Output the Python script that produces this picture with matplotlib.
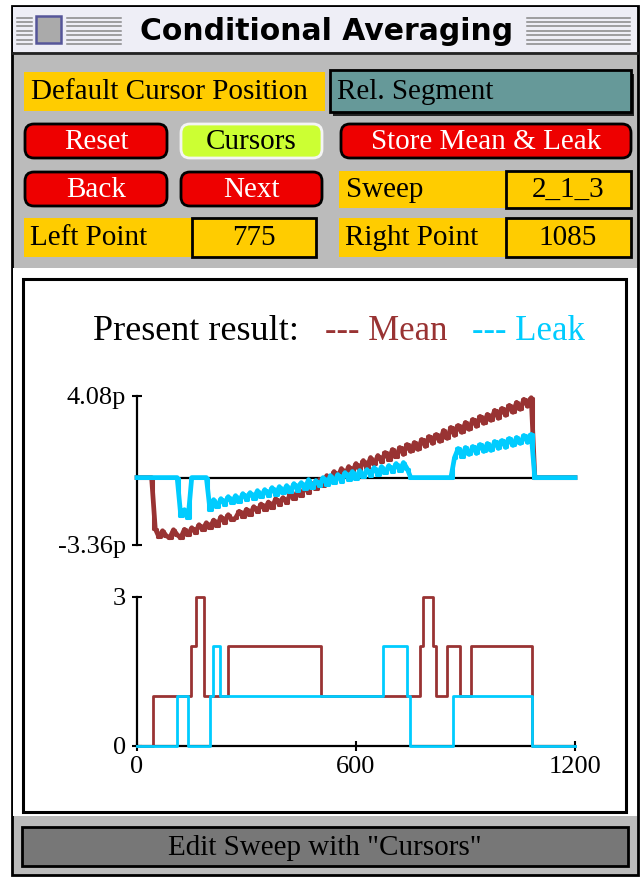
import numpy as np
import matplotlib
matplotlib.use('Agg')
import matplotlib.pyplot as plt
from matplotlib.patches import Rectangle, FancyBboxPatch

plt.rcParams['font.family'] = ['Liberation Serif', 'DejaVu Serif']

# ---------------- data ----------------
window_title = "Conditional Averaging"
status_text = 'Edit Sweep with "Cursors"'
legend_prefix = "Present result:"
legend_labels = ["--- Mean", "--- Leak"]

sample_t = np.arange(0, 1210, 10)  # sample times of the traces

mean_trace = (
    [0, 0, 0, 0, 0]
    + [-2.55, -2.95, -2.65, -2.90, -3.00, -2.60, -2.85, -3.00, -2.58, -2.85,
       -2.50, -2.75, -2.35, -2.60, -2.25, -2.50, -2.12, -2.40, -1.95, -2.25,
       -1.85, -2.10, -2.02, -1.68, -1.95, -1.58, -1.85, -1.45, -1.70, -1.32,
       -1.60, -1.22, -1.50, -1.05, -1.35, -1.00, -1.25, -0.80, -1.05, -0.66,
       -0.90, -0.46, -0.75, -0.30, -0.55, -0.10, -0.40, 0.10, -0.20, 0.30,
       0.00, 0.45, 0.12, 0.55, 0.25, 0.70, 0.36, 0.85, 0.50, 1.00,
       0.66, 1.10, 0.80, 1.25, 0.90, 1.40, 1.05, 1.50, 1.15, 1.65,
       1.30, 1.75, 1.40, 1.90, 1.55, 2.05, 1.70, 2.15, 1.80, 2.35,
       1.95, 2.50, 2.10, 2.60, 2.25, 2.75, 2.40, 2.90, 2.55, 3.05,
       2.70, 3.15, 2.85, 3.35, 2.95, 3.45, 3.10, 3.60, 3.25, 3.75,
       3.40, 3.90, 3.55, 3.98]
    + [0] * 12
)

leak_trace = (
    [0] * 12
    + [-1.90, -1.60, -2.00]
    + [0] * 5
    + [-1.60, -1.10, -1.45, -1.05, -1.35, -0.95, -1.25, -0.90, -1.20, -0.80,
       -1.10, -0.75, -1.05, -0.65, -0.95, -0.60, -0.90, -0.50, -0.85, -0.45,
       -0.75, -0.40, -0.70, -0.30, -0.65, -0.25, -0.55, -0.10, -0.50, -0.15,
       -0.40, 0.00, -0.35, 0.10, -0.25, 0.15, -0.20, 0.25, -0.10, 0.30,
       -0.05, 0.35, 0.05, 0.40, 0.10, 0.50, 0.15, 0.55, 0.25, 0.60,
       0.30, 0.70, 0.35, 0.75, 0.45]
    + [0] * 12
    + [1.00, 1.45, 1.05, 1.50, 1.15, 1.55, 1.20, 1.65, 1.30, 1.70, 1.35,
       1.80, 1.45, 1.85, 1.50, 1.95, 1.60, 2.00, 1.70, 2.10, 1.75, 2.15]
    + [0] * 12
)

mean_count_t = [0, 45, 147, 163, 183, 250, 505, 774, 783, 812, 819, 849, 885, 915, 1083, 1200]
mean_count_v = [0, 1, 2, 3, 1, 2, 1, 2, 3, 2, 1, 2, 1, 2, 0, 0]
leak_count_t = [0, 110, 140, 200, 209, 227, 673, 739, 748, 865, 1083, 1200]
leak_count_v = [0, 1, 0, 1, 2, 1, 2, 1, 0, 1, 0, 0]

upper_ticks = [-3.36, 4.08]
upper_tick_labels = ['-3.36p', '4.08p']
lower_yticks = [0, 3]
lower_xticks = [0, 600, 1200]

label_default = "Default Cursor Position"
label_segment = "Rel. Segment"
red_buttons = ["Reset", "Store Mean & Leak", "Back", "Next"]
green_button = "Cursors"
field_labels = ["Sweep", "Left Point", "Right Point"]
field_values = ["2_1_3", "775", "1085"]

MEAN_C = '#993333'
LEAK_C = '#00ccff'
YELLOW = '#ffcc00'
RED = '#ee0000'
GREY = '#bbbbbb'
UI_FS = 21

# ---------------- figure ----------------
fig = plt.figure(figsize=(6.4, 8.77), dpi=100)
ui = fig.add_axes([0, 0, 1, 1])
ui.set_xlim(0, 640)
ui.set_ylim(877, 0)
ui.axis('off')

def rect(x0, y0, x1, y1, fc, ec='none', lw=0, z=1):
    ui.add_patch(Rectangle((x0, y0), x1 - x0, y1 - y0, facecolor=fc,
                           edgecolor=ec, linewidth=lw, zorder=z))

def rbutton(x0, y0, x1, y1, fc, ec, text, tc, size=UI_FS):
    ui.add_patch(FancyBboxPatch((x0, y0), x1 - x0, y1 - y0,
                                boxstyle="round,pad=0,rounding_size=9",
                                facecolor=fc, edgecolor=ec, linewidth=2, zorder=2))
    ui.text((x0 + x1) / 2, (y0 + y1) / 2 + 1, text, color=tc, fontsize=size,
            ha='center', va='center', zorder=3)

# window
rect(12, 6, 638, 875, GREY, 'black', 2, z=0)
# title bar
rect(13, 7, 637, 52, '#eeeef6', z=1)
ui.plot([13, 637], [52.5, 52.5], color='#222222', lw=2, zorder=2)
for i in range(7):
    yy = 17.5 + i * 4.4
    for xa, xb in [(17, 32), (67, 121), (527, 630)]:
        ui.plot([xa, xb], [yy, yy], color='#888888', lw=1.1, zorder=2)
rect(36, 16, 61, 43, '#aaaaaa', '#555599', 1.8, z=3)
ui.text(327, 31, window_title, fontsize=21.5, fontweight='bold',
        family=['DejaVu Sans'], ha='center', va='center', zorder=3)

# row 1
rect(24, 72, 325, 111, YELLOW, z=2)
ui.text(31, 92, label_default, fontsize=UI_FS, ha='left', va='center', zorder=3)
rect(333, 74, 634, 116, '#222222', z=2)  # shadow
rect(330, 70, 631, 112, '#669999', 'black', 2, z=3)
ui.text(337, 92, label_segment, fontsize=UI_FS, ha='left', va='center', zorder=4)

# row 2
rbutton(25, 124, 167, 158, RED, 'black', red_buttons[0], 'white')
rbutton(181, 124, 322, 158, '#ccff33', '#f4f4f4', green_button, 'black')
rbutton(341, 124, 631, 158, RED, 'black', red_buttons[1], 'white')
# row 3
rbutton(25, 172, 167, 206, RED, 'black', red_buttons[2], 'white')
rbutton(181, 172, 322, 206, RED, 'black', red_buttons[3], 'white')
rect(339, 171, 506, 208, YELLOW, z=2)
ui.text(346, 190, field_labels[0], fontsize=UI_FS, ha='left', va='center', zorder=3)
rect(506, 171, 631, 208, YELLOW, 'black', 2, z=3)
ui.text(568, 190, field_values[0], fontsize=UI_FS, ha='center', va='center', zorder=4)
# row 4
rect(24, 218, 192, 257, YELLOW, z=2)
ui.text(30, 238, field_labels[1], fontsize=UI_FS, ha='left', va='center', zorder=3)
rect(192, 218, 316, 257, YELLOW, 'black', 2, z=3)
ui.text(254, 238, field_values[1], fontsize=UI_FS, ha='center', va='center', zorder=4)
rect(339, 218, 506, 257, YELLOW, z=2)
ui.text(345, 238, field_labels[2], fontsize=UI_FS, ha='left', va='center', zorder=3)
rect(506, 218, 631, 257, YELLOW, 'black', 2, z=3)
ui.text(568, 238, field_values[2], fontsize=UI_FS, ha='center', va='center', zorder=4)

# white lower area and plot frame
rect(13, 268, 637, 816, 'white', z=1)
rect(23, 279, 626, 812, 'white', 'black', 2.2, z=2)

# status bar
rect(22, 827, 628, 866, '#777777', 'black', 2, z=2)
ui.text(325, 848, status_text, fontsize=UI_FS, ha='center', va='center', zorder=3)

# legend text
ui.text(93, 331, legend_prefix, fontsize=26, ha='left', va='center', zorder=3)
ui.text(325, 331, legend_labels[0], fontsize=25, color=MEAN_C, ha='left', va='center', zorder=3)
ui.text(472, 331, legend_labels[1], fontsize=25, color=LEAK_C, ha='left', va='center', zorder=3)

# ---------------- upper trace plot ----------------
ax1 = fig.add_axes([137 / 640, 1 - 545 / 877, 438 / 640, 149.3 / 877])
ax1.set_xlim(0, 1200)
ax1.set_ylim(-3.36, 4.08)
ax1.patch.set_alpha(0)
for s in ['top', 'right', 'bottom']:
    ax1.spines[s].set_visible(False)
ax1.spines['left'].set_linewidth(1.6)
ax1.set_xticks([])
ax1.set_yticks(upper_ticks)
ax1.set_yticklabels(upper_tick_labels)
ax1.tick_params(axis='y', direction='inout', length=7.5, width=1.5, labelsize=19, pad=4)
ax1.axhline(0, color='black', lw=1.6, zorder=1)
ax1.plot(sample_t, mean_trace, color=MEAN_C, lw=2.2, drawstyle='steps-mid', zorder=2, clip_on=False)
ax1.plot(sample_t, mean_trace, color=MEAN_C, lw=3.4, zorder=2, clip_on=False)
ax1.plot(sample_t, leak_trace, color=LEAK_C, lw=2.2, drawstyle='steps-mid', zorder=3, clip_on=False)
ax1.plot(sample_t, leak_trace, color=LEAK_C, lw=3.4, zorder=3, clip_on=False)

# ---------------- lower count plot ----------------
ax2 = fig.add_axes([137 / 640, 1 - 745.7 / 877, 438 / 640, 149 / 877])
ax2.set_xlim(0, 1200)
ax2.set_ylim(0, 3)
ax2.patch.set_alpha(0)
for s in ['top', 'right']:
    ax2.spines[s].set_visible(False)
ax2.spines['left'].set_linewidth(1.6)
ax2.spines['bottom'].set_linewidth(1.6)
ax2.set_xticks(lower_xticks)
ax2.set_yticks(lower_yticks)
ax2.tick_params(direction='inout', length=7.5, width=1.5, labelsize=19, pad=4)
ax2.step(mean_count_t, mean_count_v, where='post', color=MEAN_C, lw=2, zorder=3, clip_on=False)
ax2.step(leak_count_t, leak_count_v, where='post', color=LEAK_C, lw=2, zorder=4, clip_on=False)

fig.savefig('out.png', dpi=100)
